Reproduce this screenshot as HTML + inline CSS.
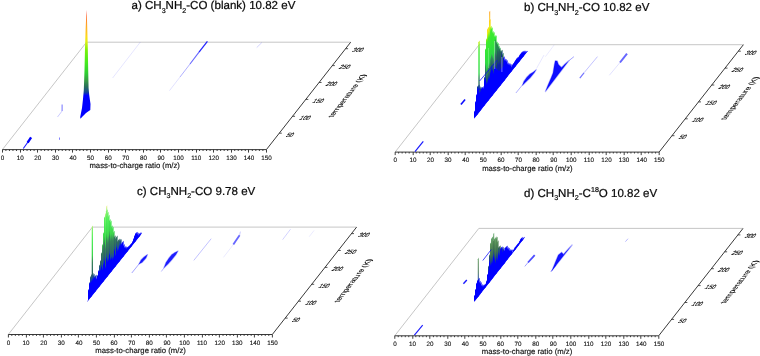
<!DOCTYPE html><html><head><meta charset="utf-8"><style>html,body{margin:0;padding:0;background:#fff}svg{display:block}text{font-family:"Liberation Sans",sans-serif}</style></head><body>
<svg width="760" height="356" viewBox="0 0 760 356" style="will-change:transform;text-rendering:geometricPrecision">
<rect width="760" height="356" fill="#fff"/>
<defs>
<linearGradient id="g0" gradientUnits="userSpaceOnUse" x1="0" y1="0" x2="0" y2="-110"><stop offset="0.0000" stop-color="#0000ff"/><stop offset="0.1636" stop-color="#0000ff"/><stop offset="0.1909" stop-color="#143ca0"/><stop offset="0.2182" stop-color="#286464"/><stop offset="0.2818" stop-color="#328c5a"/><stop offset="0.3182" stop-color="#2dd746"/><stop offset="0.4364" stop-color="#32e637"/><stop offset="0.5455" stop-color="#41eb2d"/><stop offset="0.5818" stop-color="#96f019"/><stop offset="0.6182" stop-color="#ebee19"/><stop offset="0.6636" stop-color="#ffd219"/><stop offset="0.7636" stop-color="#ffa028"/><stop offset="0.8364" stop-color="#ff6e32"/><stop offset="0.9091" stop-color="#ff3c46"/></linearGradient>
<linearGradient id="c0" gradientUnits="userSpaceOnUse" x1="0" y1="0" x2="0" y2="-110"><stop offset="0.0000" stop-color="#0000ff"/><stop offset="0.0909" stop-color="#0000ff"/><stop offset="0.1182" stop-color="#194ba0"/><stop offset="0.1545" stop-color="#2d6464"/><stop offset="0.2636" stop-color="#37825a"/><stop offset="0.3273" stop-color="#3cd74b"/><stop offset="0.4636" stop-color="#50ee5a"/><stop offset="0.5636" stop-color="#82f26e"/><stop offset="0.6091" stop-color="#ebf08c"/></linearGradient>
<linearGradient id="d0" gradientUnits="userSpaceOnUse" x1="0" y1="0" x2="0" y2="-110"><stop offset="0.0000" stop-color="#0000ff"/><stop offset="0.1000" stop-color="#0000ff"/><stop offset="0.1364" stop-color="#1e468c"/><stop offset="0.1818" stop-color="#3c6e50"/><stop offset="0.2727" stop-color="#558c55"/><stop offset="0.3545" stop-color="#6eaf78"/></linearGradient>
<linearGradient id="g1" gradientUnits="userSpaceOnUse" x1="0" y1="0" x2="0" y2="-110"><stop offset="0.0000" stop-color="#0000ff"/><stop offset="0.1818" stop-color="#0000ff"/><stop offset="0.2091" stop-color="#143ca0"/><stop offset="0.2364" stop-color="#286464"/><stop offset="0.3000" stop-color="#328c5a"/><stop offset="0.3364" stop-color="#2dd746"/><stop offset="0.4545" stop-color="#32e637"/><stop offset="0.5636" stop-color="#41eb2d"/><stop offset="0.6000" stop-color="#96f019"/><stop offset="0.6364" stop-color="#ebee19"/><stop offset="0.6818" stop-color="#ffd219"/><stop offset="0.7818" stop-color="#ffa028"/><stop offset="0.8545" stop-color="#ff6e32"/><stop offset="0.9273" stop-color="#ff3c46"/></linearGradient>
<linearGradient id="c1" gradientUnits="userSpaceOnUse" x1="0" y1="0" x2="0" y2="-110"><stop offset="0.0000" stop-color="#0000ff"/><stop offset="0.1091" stop-color="#0000ff"/><stop offset="0.1364" stop-color="#194ba0"/><stop offset="0.1727" stop-color="#2d6464"/><stop offset="0.2818" stop-color="#37825a"/><stop offset="0.3455" stop-color="#3cd74b"/><stop offset="0.4818" stop-color="#50ee5a"/><stop offset="0.5818" stop-color="#82f26e"/><stop offset="0.6273" stop-color="#ebf08c"/></linearGradient>
<linearGradient id="d1" gradientUnits="userSpaceOnUse" x1="0" y1="0" x2="0" y2="-110"><stop offset="0.0000" stop-color="#0000ff"/><stop offset="0.1182" stop-color="#0000ff"/><stop offset="0.1545" stop-color="#1e468c"/><stop offset="0.2000" stop-color="#3c6e50"/><stop offset="0.2909" stop-color="#558c55"/><stop offset="0.3727" stop-color="#6eaf78"/></linearGradient>
<linearGradient id="g2" gradientUnits="userSpaceOnUse" x1="0" y1="0" x2="0" y2="-110"><stop offset="0.0000" stop-color="#0000ff"/><stop offset="0.2000" stop-color="#0000ff"/><stop offset="0.2273" stop-color="#143ca0"/><stop offset="0.2545" stop-color="#286464"/><stop offset="0.3182" stop-color="#328c5a"/><stop offset="0.3545" stop-color="#2dd746"/><stop offset="0.4727" stop-color="#32e637"/><stop offset="0.5818" stop-color="#41eb2d"/><stop offset="0.6182" stop-color="#96f019"/><stop offset="0.6545" stop-color="#ebee19"/><stop offset="0.7000" stop-color="#ffd219"/><stop offset="0.8000" stop-color="#ffa028"/><stop offset="0.8727" stop-color="#ff6e32"/><stop offset="0.9455" stop-color="#ff3c46"/></linearGradient>
<linearGradient id="c2" gradientUnits="userSpaceOnUse" x1="0" y1="0" x2="0" y2="-110"><stop offset="0.0000" stop-color="#0000ff"/><stop offset="0.1273" stop-color="#0000ff"/><stop offset="0.1545" stop-color="#194ba0"/><stop offset="0.1909" stop-color="#2d6464"/><stop offset="0.3000" stop-color="#37825a"/><stop offset="0.3636" stop-color="#3cd74b"/><stop offset="0.5000" stop-color="#50ee5a"/><stop offset="0.6000" stop-color="#82f26e"/><stop offset="0.6455" stop-color="#ebf08c"/></linearGradient>
<linearGradient id="d2" gradientUnits="userSpaceOnUse" x1="0" y1="0" x2="0" y2="-110"><stop offset="0.0000" stop-color="#0000ff"/><stop offset="0.1364" stop-color="#0000ff"/><stop offset="0.1727" stop-color="#1e468c"/><stop offset="0.2182" stop-color="#3c6e50"/><stop offset="0.3091" stop-color="#558c55"/><stop offset="0.3909" stop-color="#6eaf78"/></linearGradient>
<linearGradient id="g3" gradientUnits="userSpaceOnUse" x1="0" y1="0" x2="0" y2="-110"><stop offset="0.0182" stop-color="#0000ff"/><stop offset="0.2182" stop-color="#0000ff"/><stop offset="0.2455" stop-color="#143ca0"/><stop offset="0.2727" stop-color="#286464"/><stop offset="0.3364" stop-color="#328c5a"/><stop offset="0.3727" stop-color="#2dd746"/><stop offset="0.4909" stop-color="#32e637"/><stop offset="0.6000" stop-color="#41eb2d"/><stop offset="0.6364" stop-color="#96f019"/><stop offset="0.6727" stop-color="#ebee19"/><stop offset="0.7182" stop-color="#ffd219"/><stop offset="0.8182" stop-color="#ffa028"/><stop offset="0.8909" stop-color="#ff6e32"/><stop offset="0.9636" stop-color="#ff3c46"/></linearGradient>
<linearGradient id="c3" gradientUnits="userSpaceOnUse" x1="0" y1="0" x2="0" y2="-110"><stop offset="0.0182" stop-color="#0000ff"/><stop offset="0.1455" stop-color="#0000ff"/><stop offset="0.1727" stop-color="#194ba0"/><stop offset="0.2091" stop-color="#2d6464"/><stop offset="0.3182" stop-color="#37825a"/><stop offset="0.3818" stop-color="#3cd74b"/><stop offset="0.5182" stop-color="#50ee5a"/><stop offset="0.6182" stop-color="#82f26e"/><stop offset="0.6636" stop-color="#ebf08c"/></linearGradient>
<linearGradient id="d3" gradientUnits="userSpaceOnUse" x1="0" y1="0" x2="0" y2="-110"><stop offset="0.0182" stop-color="#0000ff"/><stop offset="0.1545" stop-color="#0000ff"/><stop offset="0.1909" stop-color="#1e468c"/><stop offset="0.2364" stop-color="#3c6e50"/><stop offset="0.3273" stop-color="#558c55"/><stop offset="0.4091" stop-color="#6eaf78"/></linearGradient>
<linearGradient id="g4" gradientUnits="userSpaceOnUse" x1="0" y1="0" x2="0" y2="-110"><stop offset="0.0364" stop-color="#0000ff"/><stop offset="0.2364" stop-color="#0000ff"/><stop offset="0.2636" stop-color="#143ca0"/><stop offset="0.2909" stop-color="#286464"/><stop offset="0.3545" stop-color="#328c5a"/><stop offset="0.3909" stop-color="#2dd746"/><stop offset="0.5091" stop-color="#32e637"/><stop offset="0.6182" stop-color="#41eb2d"/><stop offset="0.6545" stop-color="#96f019"/><stop offset="0.6909" stop-color="#ebee19"/><stop offset="0.7364" stop-color="#ffd219"/><stop offset="0.8364" stop-color="#ffa028"/><stop offset="0.9091" stop-color="#ff6e32"/><stop offset="0.9818" stop-color="#ff3c46"/></linearGradient>
<linearGradient id="c4" gradientUnits="userSpaceOnUse" x1="0" y1="0" x2="0" y2="-110"><stop offset="0.0364" stop-color="#0000ff"/><stop offset="0.1636" stop-color="#0000ff"/><stop offset="0.1909" stop-color="#194ba0"/><stop offset="0.2273" stop-color="#2d6464"/><stop offset="0.3364" stop-color="#37825a"/><stop offset="0.4000" stop-color="#3cd74b"/><stop offset="0.5364" stop-color="#50ee5a"/><stop offset="0.6364" stop-color="#82f26e"/><stop offset="0.6818" stop-color="#ebf08c"/></linearGradient>
<linearGradient id="d4" gradientUnits="userSpaceOnUse" x1="0" y1="0" x2="0" y2="-110"><stop offset="0.0364" stop-color="#0000ff"/><stop offset="0.1727" stop-color="#0000ff"/><stop offset="0.2091" stop-color="#1e468c"/><stop offset="0.2545" stop-color="#3c6e50"/><stop offset="0.3455" stop-color="#558c55"/><stop offset="0.4273" stop-color="#6eaf78"/></linearGradient>
</defs>
<g transform="translate(0,0)">
<path d="M2.4 149.6L86.5 42.2H350.7" fill="none" stroke="#b8b8b8" stroke-width="0.8"/>
<path d="M2.4 149.6H266.4L350.7 42.2" fill="none" stroke="#2e2e2e" stroke-width="0.95"/>
<path d="M2.5 149.6v3M5.92 149.6v1.4M9.44 149.6v1.4M12.96 149.6v1.4M16.48 149.6v1.4M20.5 149.6v3M23.52 149.6v1.4M27.04 149.6v1.4M30.56 149.6v1.4M34.08 149.6v1.4M37.5 149.6v3M41.12 149.6v1.4M44.64 149.6v1.4M48.16 149.6v1.4M51.68 149.6v1.4M55.5 149.6v3M58.72 149.6v1.4M62.24 149.6v1.4M65.76 149.6v1.4M69.28 149.6v1.4M72.5 149.6v3M76.32 149.6v1.4M79.84 149.6v1.4M83.36 149.6v1.4M86.88 149.6v1.4M90.5 149.6v3M93.92 149.6v1.4M97.44 149.6v1.4M100.96 149.6v1.4M104.48 149.6v1.4M108.5 149.6v3M111.52 149.6v1.4M115.04 149.6v1.4M118.56 149.6v1.4M122.08 149.6v1.4M125.5 149.6v3M129.12 149.6v1.4M132.64 149.6v1.4M136.16 149.6v1.4M139.68 149.6v1.4M143.5 149.6v3M146.72 149.6v1.4M150.24 149.6v1.4M153.76 149.6v1.4M157.28 149.6v1.4M160.5 149.6v3M164.32 149.6v1.4M167.84 149.6v1.4M171.36 149.6v1.4M174.88 149.6v1.4M178.5 149.6v3M181.92 149.6v1.4M185.44 149.6v1.4M188.96 149.6v1.4M192.48 149.6v1.4M196.5 149.6v3M199.52 149.6v1.4M203.04 149.6v1.4M206.56 149.6v1.4M210.08 149.6v1.4M213.5 149.6v3M217.12 149.6v1.4M220.64 149.6v1.4M224.16 149.6v1.4M227.68 149.6v1.4M231.5 149.6v3M234.72 149.6v1.4M238.24 149.6v1.4M241.76 149.6v1.4M245.28 149.6v1.4M248.5 149.6v3M252.32 149.6v1.4M255.84 149.6v1.4M259.36 149.6v1.4M262.88 149.6v1.4M266.5 149.6v3" stroke="#2a2a2a" stroke-width="0.9" fill="none"/>
<text x="2.6" y="159.8" font-size="6.3" text-anchor="middle" fill="#111" stroke="#111" stroke-width="0.12">0</text>
<text x="20.2" y="159.8" font-size="6.3" text-anchor="middle" fill="#111" stroke="#111" stroke-width="0.12">10</text>
<text x="37.8" y="159.8" font-size="6.3" text-anchor="middle" fill="#111" stroke="#111" stroke-width="0.12">20</text>
<text x="55.4" y="159.8" font-size="6.3" text-anchor="middle" fill="#111" stroke="#111" stroke-width="0.12">30</text>
<text x="73" y="159.8" font-size="6.3" text-anchor="middle" fill="#111" stroke="#111" stroke-width="0.12">40</text>
<text x="90.6" y="159.8" font-size="6.3" text-anchor="middle" fill="#111" stroke="#111" stroke-width="0.12">50</text>
<text x="108.2" y="159.8" font-size="6.3" text-anchor="middle" fill="#111" stroke="#111" stroke-width="0.12">60</text>
<text x="125.8" y="159.8" font-size="6.3" text-anchor="middle" fill="#111" stroke="#111" stroke-width="0.12">70</text>
<text x="143.4" y="159.8" font-size="6.3" text-anchor="middle" fill="#111" stroke="#111" stroke-width="0.12">80</text>
<text x="161" y="159.8" font-size="6.3" text-anchor="middle" fill="#111" stroke="#111" stroke-width="0.12">90</text>
<text x="178.6" y="159.8" font-size="6.3" text-anchor="middle" fill="#111" stroke="#111" stroke-width="0.12">100</text>
<text x="196.2" y="159.8" font-size="6.3" text-anchor="middle" fill="#111" stroke="#111" stroke-width="0.12">110</text>
<text x="213.8" y="159.8" font-size="6.3" text-anchor="middle" fill="#111" stroke="#111" stroke-width="0.12">120</text>
<text x="231.4" y="159.8" font-size="6.3" text-anchor="middle" fill="#111" stroke="#111" stroke-width="0.12">130</text>
<text x="249" y="159.8" font-size="6.3" text-anchor="middle" fill="#111" stroke="#111" stroke-width="0.12">140</text>
<text x="266.6" y="159.8" font-size="6.3" text-anchor="middle" fill="#111" stroke="#111" stroke-width="0.12">150</text>
<text x="134.7" y="168" font-size="7.73" text-anchor="middle" fill="#111" stroke="#111" stroke-width="0.15">mass-to-charge ratio (m/z)</text>
<text transform="matrix(1 0 -0.785 1 351.6 52.2)" font-size="6.0" fill="#000" stroke="#000" stroke-width="0.12">300</text>
<text transform="matrix(1 0 -0.785 1 338.33 69.1)" font-size="6.0" fill="#000" stroke="#000" stroke-width="0.12">250</text>
<text transform="matrix(1 0 -0.785 1 325.07 86)" font-size="6.0" fill="#000" stroke="#000" stroke-width="0.12">200</text>
<text transform="matrix(1 0 -0.785 1 311.8 102.9)" font-size="6.0" fill="#000" stroke="#000" stroke-width="0.12">150</text>
<text transform="matrix(1 0 -0.785 1 298.54 119.8)" font-size="6.0" fill="#000" stroke="#000" stroke-width="0.12">100</text>
<text transform="matrix(1 0 -0.785 1 285.27 136.7)" font-size="6.0" fill="#000" stroke="#000" stroke-width="0.12">50</text>
<path d="M345.5 48.7h2.6M332.23 65.6h2.6M318.97 82.5h2.6M305.7 99.4h2.6M292.44 116.3h2.6M279.17 133.2h2.6" stroke="#2a2a2a" stroke-width="0.8" fill="none"/>
<text transform="matrix(0.617 -0.787 1.02 0 333 117.3)" font-size="7.8" fill="#000" stroke="#000" stroke-width="0.1">temperature (K)</text>
</g>
<g transform="translate(392.7,2.5)">
<path d="M2.4 149.6L86.5 42.2H350.7" fill="none" stroke="#b8b8b8" stroke-width="0.8"/>
<path d="M2.4 149.6H266.4L350.7 42.2" fill="none" stroke="#2e2e2e" stroke-width="0.95"/>
<path d="M2.5 149.6v3M5.92 149.6v1.4M9.44 149.6v1.4M12.96 149.6v1.4M16.48 149.6v1.4M20.5 149.6v3M23.52 149.6v1.4M27.04 149.6v1.4M30.56 149.6v1.4M34.08 149.6v1.4M37.5 149.6v3M41.12 149.6v1.4M44.64 149.6v1.4M48.16 149.6v1.4M51.68 149.6v1.4M55.5 149.6v3M58.72 149.6v1.4M62.24 149.6v1.4M65.76 149.6v1.4M69.28 149.6v1.4M72.5 149.6v3M76.32 149.6v1.4M79.84 149.6v1.4M83.36 149.6v1.4M86.88 149.6v1.4M90.5 149.6v3M93.92 149.6v1.4M97.44 149.6v1.4M100.96 149.6v1.4M104.48 149.6v1.4M108.5 149.6v3M111.52 149.6v1.4M115.04 149.6v1.4M118.56 149.6v1.4M122.08 149.6v1.4M125.5 149.6v3M129.12 149.6v1.4M132.64 149.6v1.4M136.16 149.6v1.4M139.68 149.6v1.4M143.5 149.6v3M146.72 149.6v1.4M150.24 149.6v1.4M153.76 149.6v1.4M157.28 149.6v1.4M160.5 149.6v3M164.32 149.6v1.4M167.84 149.6v1.4M171.36 149.6v1.4M174.88 149.6v1.4M178.5 149.6v3M181.92 149.6v1.4M185.44 149.6v1.4M188.96 149.6v1.4M192.48 149.6v1.4M196.5 149.6v3M199.52 149.6v1.4M203.04 149.6v1.4M206.56 149.6v1.4M210.08 149.6v1.4M213.5 149.6v3M217.12 149.6v1.4M220.64 149.6v1.4M224.16 149.6v1.4M227.68 149.6v1.4M231.5 149.6v3M234.72 149.6v1.4M238.24 149.6v1.4M241.76 149.6v1.4M245.28 149.6v1.4M248.5 149.6v3M252.32 149.6v1.4M255.84 149.6v1.4M259.36 149.6v1.4M262.88 149.6v1.4M266.5 149.6v3" stroke="#2a2a2a" stroke-width="0.9" fill="none"/>
<text x="2.6" y="159.8" font-size="6.3" text-anchor="middle" fill="#111" stroke="#111" stroke-width="0.12">0</text>
<text x="20.2" y="159.8" font-size="6.3" text-anchor="middle" fill="#111" stroke="#111" stroke-width="0.12">10</text>
<text x="37.8" y="159.8" font-size="6.3" text-anchor="middle" fill="#111" stroke="#111" stroke-width="0.12">20</text>
<text x="55.4" y="159.8" font-size="6.3" text-anchor="middle" fill="#111" stroke="#111" stroke-width="0.12">30</text>
<text x="73" y="159.8" font-size="6.3" text-anchor="middle" fill="#111" stroke="#111" stroke-width="0.12">40</text>
<text x="90.6" y="159.8" font-size="6.3" text-anchor="middle" fill="#111" stroke="#111" stroke-width="0.12">50</text>
<text x="108.2" y="159.8" font-size="6.3" text-anchor="middle" fill="#111" stroke="#111" stroke-width="0.12">60</text>
<text x="125.8" y="159.8" font-size="6.3" text-anchor="middle" fill="#111" stroke="#111" stroke-width="0.12">70</text>
<text x="143.4" y="159.8" font-size="6.3" text-anchor="middle" fill="#111" stroke="#111" stroke-width="0.12">80</text>
<text x="161" y="159.8" font-size="6.3" text-anchor="middle" fill="#111" stroke="#111" stroke-width="0.12">90</text>
<text x="178.6" y="159.8" font-size="6.3" text-anchor="middle" fill="#111" stroke="#111" stroke-width="0.12">100</text>
<text x="196.2" y="159.8" font-size="6.3" text-anchor="middle" fill="#111" stroke="#111" stroke-width="0.12">110</text>
<text x="213.8" y="159.8" font-size="6.3" text-anchor="middle" fill="#111" stroke="#111" stroke-width="0.12">120</text>
<text x="231.4" y="159.8" font-size="6.3" text-anchor="middle" fill="#111" stroke="#111" stroke-width="0.12">130</text>
<text x="249" y="159.8" font-size="6.3" text-anchor="middle" fill="#111" stroke="#111" stroke-width="0.12">140</text>
<text x="266.6" y="159.8" font-size="6.3" text-anchor="middle" fill="#111" stroke="#111" stroke-width="0.12">150</text>
<text x="134.7" y="168" font-size="7.73" text-anchor="middle" fill="#111" stroke="#111" stroke-width="0.15">mass-to-charge ratio (m/z)</text>
<text transform="matrix(1 0 -0.785 1 351.6 52.2)" font-size="6.0" fill="#000" stroke="#000" stroke-width="0.12">300</text>
<text transform="matrix(1 0 -0.785 1 338.33 69.1)" font-size="6.0" fill="#000" stroke="#000" stroke-width="0.12">250</text>
<text transform="matrix(1 0 -0.785 1 325.07 86)" font-size="6.0" fill="#000" stroke="#000" stroke-width="0.12">200</text>
<text transform="matrix(1 0 -0.785 1 311.8 102.9)" font-size="6.0" fill="#000" stroke="#000" stroke-width="0.12">150</text>
<text transform="matrix(1 0 -0.785 1 298.54 119.8)" font-size="6.0" fill="#000" stroke="#000" stroke-width="0.12">100</text>
<text transform="matrix(1 0 -0.785 1 285.27 136.7)" font-size="6.0" fill="#000" stroke="#000" stroke-width="0.12">50</text>
<path d="M345.5 48.7h2.6M332.23 65.6h2.6M318.97 82.5h2.6M305.7 99.4h2.6M292.44 116.3h2.6M279.17 133.2h2.6" stroke="#2a2a2a" stroke-width="0.8" fill="none"/>
<text transform="matrix(0.617 -0.787 1.02 0 333 117.3)" font-size="7.8" fill="#000" stroke="#000" stroke-width="0.1">temperature (K)</text>
</g>
<g transform="translate(5.9,184.9)">
<path d="M2.4 149.6L86.5 42.2H350.7" fill="none" stroke="#b8b8b8" stroke-width="0.8"/>
<path d="M2.4 149.6H266.4L350.7 42.2" fill="none" stroke="#2e2e2e" stroke-width="0.95"/>
<path d="M2.5 149.6v3M5.92 149.6v1.4M9.44 149.6v1.4M12.96 149.6v1.4M16.48 149.6v1.4M20.5 149.6v3M23.52 149.6v1.4M27.04 149.6v1.4M30.56 149.6v1.4M34.08 149.6v1.4M37.5 149.6v3M41.12 149.6v1.4M44.64 149.6v1.4M48.16 149.6v1.4M51.68 149.6v1.4M55.5 149.6v3M58.72 149.6v1.4M62.24 149.6v1.4M65.76 149.6v1.4M69.28 149.6v1.4M72.5 149.6v3M76.32 149.6v1.4M79.84 149.6v1.4M83.36 149.6v1.4M86.88 149.6v1.4M90.5 149.6v3M93.92 149.6v1.4M97.44 149.6v1.4M100.96 149.6v1.4M104.48 149.6v1.4M108.5 149.6v3M111.52 149.6v1.4M115.04 149.6v1.4M118.56 149.6v1.4M122.08 149.6v1.4M125.5 149.6v3M129.12 149.6v1.4M132.64 149.6v1.4M136.16 149.6v1.4M139.68 149.6v1.4M143.5 149.6v3M146.72 149.6v1.4M150.24 149.6v1.4M153.76 149.6v1.4M157.28 149.6v1.4M160.5 149.6v3M164.32 149.6v1.4M167.84 149.6v1.4M171.36 149.6v1.4M174.88 149.6v1.4M178.5 149.6v3M181.92 149.6v1.4M185.44 149.6v1.4M188.96 149.6v1.4M192.48 149.6v1.4M196.5 149.6v3M199.52 149.6v1.4M203.04 149.6v1.4M206.56 149.6v1.4M210.08 149.6v1.4M213.5 149.6v3M217.12 149.6v1.4M220.64 149.6v1.4M224.16 149.6v1.4M227.68 149.6v1.4M231.5 149.6v3M234.72 149.6v1.4M238.24 149.6v1.4M241.76 149.6v1.4M245.28 149.6v1.4M248.5 149.6v3M252.32 149.6v1.4M255.84 149.6v1.4M259.36 149.6v1.4M262.88 149.6v1.4M266.5 149.6v3" stroke="#2a2a2a" stroke-width="0.9" fill="none"/>
<text x="2.6" y="159.8" font-size="6.3" text-anchor="middle" fill="#111" stroke="#111" stroke-width="0.12">0</text>
<text x="20.2" y="159.8" font-size="6.3" text-anchor="middle" fill="#111" stroke="#111" stroke-width="0.12">10</text>
<text x="37.8" y="159.8" font-size="6.3" text-anchor="middle" fill="#111" stroke="#111" stroke-width="0.12">20</text>
<text x="55.4" y="159.8" font-size="6.3" text-anchor="middle" fill="#111" stroke="#111" stroke-width="0.12">30</text>
<text x="73" y="159.8" font-size="6.3" text-anchor="middle" fill="#111" stroke="#111" stroke-width="0.12">40</text>
<text x="90.6" y="159.8" font-size="6.3" text-anchor="middle" fill="#111" stroke="#111" stroke-width="0.12">50</text>
<text x="108.2" y="159.8" font-size="6.3" text-anchor="middle" fill="#111" stroke="#111" stroke-width="0.12">60</text>
<text x="125.8" y="159.8" font-size="6.3" text-anchor="middle" fill="#111" stroke="#111" stroke-width="0.12">70</text>
<text x="143.4" y="159.8" font-size="6.3" text-anchor="middle" fill="#111" stroke="#111" stroke-width="0.12">80</text>
<text x="161" y="159.8" font-size="6.3" text-anchor="middle" fill="#111" stroke="#111" stroke-width="0.12">90</text>
<text x="178.6" y="159.8" font-size="6.3" text-anchor="middle" fill="#111" stroke="#111" stroke-width="0.12">100</text>
<text x="196.2" y="159.8" font-size="6.3" text-anchor="middle" fill="#111" stroke="#111" stroke-width="0.12">110</text>
<text x="213.8" y="159.8" font-size="6.3" text-anchor="middle" fill="#111" stroke="#111" stroke-width="0.12">120</text>
<text x="231.4" y="159.8" font-size="6.3" text-anchor="middle" fill="#111" stroke="#111" stroke-width="0.12">130</text>
<text x="249" y="159.8" font-size="6.3" text-anchor="middle" fill="#111" stroke="#111" stroke-width="0.12">140</text>
<text x="266.6" y="159.8" font-size="6.3" text-anchor="middle" fill="#111" stroke="#111" stroke-width="0.12">150</text>
<text x="134.7" y="168" font-size="7.73" text-anchor="middle" fill="#111" stroke="#111" stroke-width="0.15">mass-to-charge ratio (m/z)</text>
<text transform="matrix(1 0 -0.785 1 351.6 52.2)" font-size="6.0" fill="#000" stroke="#000" stroke-width="0.12">300</text>
<text transform="matrix(1 0 -0.785 1 338.33 69.1)" font-size="6.0" fill="#000" stroke="#000" stroke-width="0.12">250</text>
<text transform="matrix(1 0 -0.785 1 325.07 86)" font-size="6.0" fill="#000" stroke="#000" stroke-width="0.12">200</text>
<text transform="matrix(1 0 -0.785 1 311.8 102.9)" font-size="6.0" fill="#000" stroke="#000" stroke-width="0.12">150</text>
<text transform="matrix(1 0 -0.785 1 298.54 119.8)" font-size="6.0" fill="#000" stroke="#000" stroke-width="0.12">100</text>
<text transform="matrix(1 0 -0.785 1 285.27 136.7)" font-size="6.0" fill="#000" stroke="#000" stroke-width="0.12">50</text>
<path d="M345.5 48.7h2.6M332.23 65.6h2.6M318.97 82.5h2.6M305.7 99.4h2.6M292.44 116.3h2.6M279.17 133.2h2.6" stroke="#2a2a2a" stroke-width="0.8" fill="none"/>
<text transform="matrix(0.617 -0.787 1.02 0 333 117.3)" font-size="7.8" fill="#000" stroke="#000" stroke-width="0.1">temperature (K)</text>
</g>
<g transform="translate(392.3,186.2)">
<path d="M2.4 149.6L86.5 42.2H350.7" fill="none" stroke="#b8b8b8" stroke-width="0.8"/>
<path d="M2.4 149.6H266.4L350.7 42.2" fill="none" stroke="#2e2e2e" stroke-width="0.95"/>
<path d="M2.5 149.6v3M5.92 149.6v1.4M9.44 149.6v1.4M12.96 149.6v1.4M16.48 149.6v1.4M20.5 149.6v3M23.52 149.6v1.4M27.04 149.6v1.4M30.56 149.6v1.4M34.08 149.6v1.4M37.5 149.6v3M41.12 149.6v1.4M44.64 149.6v1.4M48.16 149.6v1.4M51.68 149.6v1.4M55.5 149.6v3M58.72 149.6v1.4M62.24 149.6v1.4M65.76 149.6v1.4M69.28 149.6v1.4M72.5 149.6v3M76.32 149.6v1.4M79.84 149.6v1.4M83.36 149.6v1.4M86.88 149.6v1.4M90.5 149.6v3M93.92 149.6v1.4M97.44 149.6v1.4M100.96 149.6v1.4M104.48 149.6v1.4M108.5 149.6v3M111.52 149.6v1.4M115.04 149.6v1.4M118.56 149.6v1.4M122.08 149.6v1.4M125.5 149.6v3M129.12 149.6v1.4M132.64 149.6v1.4M136.16 149.6v1.4M139.68 149.6v1.4M143.5 149.6v3M146.72 149.6v1.4M150.24 149.6v1.4M153.76 149.6v1.4M157.28 149.6v1.4M160.5 149.6v3M164.32 149.6v1.4M167.84 149.6v1.4M171.36 149.6v1.4M174.88 149.6v1.4M178.5 149.6v3M181.92 149.6v1.4M185.44 149.6v1.4M188.96 149.6v1.4M192.48 149.6v1.4M196.5 149.6v3M199.52 149.6v1.4M203.04 149.6v1.4M206.56 149.6v1.4M210.08 149.6v1.4M213.5 149.6v3M217.12 149.6v1.4M220.64 149.6v1.4M224.16 149.6v1.4M227.68 149.6v1.4M231.5 149.6v3M234.72 149.6v1.4M238.24 149.6v1.4M241.76 149.6v1.4M245.28 149.6v1.4M248.5 149.6v3M252.32 149.6v1.4M255.84 149.6v1.4M259.36 149.6v1.4M262.88 149.6v1.4M266.5 149.6v3" stroke="#2a2a2a" stroke-width="0.9" fill="none"/>
<text x="2.6" y="159.8" font-size="6.3" text-anchor="middle" fill="#111" stroke="#111" stroke-width="0.12">0</text>
<text x="20.2" y="159.8" font-size="6.3" text-anchor="middle" fill="#111" stroke="#111" stroke-width="0.12">10</text>
<text x="37.8" y="159.8" font-size="6.3" text-anchor="middle" fill="#111" stroke="#111" stroke-width="0.12">20</text>
<text x="55.4" y="159.8" font-size="6.3" text-anchor="middle" fill="#111" stroke="#111" stroke-width="0.12">30</text>
<text x="73" y="159.8" font-size="6.3" text-anchor="middle" fill="#111" stroke="#111" stroke-width="0.12">40</text>
<text x="90.6" y="159.8" font-size="6.3" text-anchor="middle" fill="#111" stroke="#111" stroke-width="0.12">50</text>
<text x="108.2" y="159.8" font-size="6.3" text-anchor="middle" fill="#111" stroke="#111" stroke-width="0.12">60</text>
<text x="125.8" y="159.8" font-size="6.3" text-anchor="middle" fill="#111" stroke="#111" stroke-width="0.12">70</text>
<text x="143.4" y="159.8" font-size="6.3" text-anchor="middle" fill="#111" stroke="#111" stroke-width="0.12">80</text>
<text x="161" y="159.8" font-size="6.3" text-anchor="middle" fill="#111" stroke="#111" stroke-width="0.12">90</text>
<text x="178.6" y="159.8" font-size="6.3" text-anchor="middle" fill="#111" stroke="#111" stroke-width="0.12">100</text>
<text x="196.2" y="159.8" font-size="6.3" text-anchor="middle" fill="#111" stroke="#111" stroke-width="0.12">110</text>
<text x="213.8" y="159.8" font-size="6.3" text-anchor="middle" fill="#111" stroke="#111" stroke-width="0.12">120</text>
<text x="231.4" y="159.8" font-size="6.3" text-anchor="middle" fill="#111" stroke="#111" stroke-width="0.12">130</text>
<text x="249" y="159.8" font-size="6.3" text-anchor="middle" fill="#111" stroke="#111" stroke-width="0.12">140</text>
<text x="266.6" y="159.8" font-size="6.3" text-anchor="middle" fill="#111" stroke="#111" stroke-width="0.12">150</text>
<text x="134.7" y="168" font-size="7.73" text-anchor="middle" fill="#111" stroke="#111" stroke-width="0.15">mass-to-charge ratio (m/z)</text>
<text transform="matrix(1 0 -0.785 1 351.6 52.2)" font-size="6.0" fill="#000" stroke="#000" stroke-width="0.12">300</text>
<text transform="matrix(1 0 -0.785 1 338.33 69.1)" font-size="6.0" fill="#000" stroke="#000" stroke-width="0.12">250</text>
<text transform="matrix(1 0 -0.785 1 325.07 86)" font-size="6.0" fill="#000" stroke="#000" stroke-width="0.12">200</text>
<text transform="matrix(1 0 -0.785 1 311.8 102.9)" font-size="6.0" fill="#000" stroke="#000" stroke-width="0.12">150</text>
<text transform="matrix(1 0 -0.785 1 298.54 119.8)" font-size="6.0" fill="#000" stroke="#000" stroke-width="0.12">100</text>
<text transform="matrix(1 0 -0.785 1 285.27 136.7)" font-size="6.0" fill="#000" stroke="#000" stroke-width="0.12">50</text>
<path d="M345.5 48.7h2.6M332.23 65.6h2.6M318.97 82.5h2.6M305.7 99.4h2.6M292.44 116.3h2.6M279.17 133.2h2.6" stroke="#2a2a2a" stroke-width="0.8" fill="none"/>
<text transform="matrix(0.617 -0.787 1.02 0 333 117.3)" font-size="7.8" fill="#000" stroke="#000" stroke-width="0.1">temperature (K)</text>
</g>
<defs><linearGradient id="ga" gradientUnits="userSpaceOnUse" x1="0" y1="112" x2="0" y2="2">
<stop offset="0" stop-color="#0000ff"/>
<stop offset="0.15" stop-color="#0000ff"/>
<stop offset="0.18" stop-color="#144696"/>
<stop offset="0.23" stop-color="#286e5a"/>
<stop offset="0.28" stop-color="#379646"/>
<stop offset="0.35" stop-color="#2dcd32"/>
<stop offset="0.45" stop-color="#46eb1e"/>
<stop offset="0.56" stop-color="#78f00a"/>
<stop offset="0.64" stop-color="#e1f014"/>
<stop offset="0.69" stop-color="#ffd719"/>
<stop offset="0.8" stop-color="#ffa028"/>
<stop offset="0.87" stop-color="#ff6e32"/>
<stop offset="0.93" stop-color="#ff3c46"/>
</linearGradient></defs>
<polygon points="80.4,118.8 80.2,117 82,108 83,99 83.8,90 84.5,70 85,48 85.6,30 86.2,16 86.5,10 86.9,16 87.3,30 87.8,48 88.2,70 88.6,88 89.2,95 90.5,104 90.3,110 86,113 83,116" fill="url(#ga)"/>
<path d="M23.3 148.5L28 142" stroke="#0000ff" stroke-width="1.1" stroke-opacity="0.9" fill="none"/>
<path d="M27.6 142.6L31.1 137.4" stroke="#0000ff" stroke-width="2.4" stroke-opacity="1" fill="none"/>
<path d="M59.5 137.5L59.5 139.8" stroke="#0000ff" stroke-width="0.9" stroke-opacity="0.55" fill="none"/>
<path d="M62.1 104.5L62.1 111" stroke="#0000ff" stroke-width="0.8" stroke-opacity="0.7" fill="none"/>
<path d="M62.1 111L57.5 117" stroke="#0000ff" stroke-width="0.7" stroke-opacity="0.3" fill="none"/>
<path d="M207.4 41.3L199 52.2" stroke="#0000ff" stroke-width="1.3" stroke-opacity="0.85" fill="none"/>
<path d="M199 52.2L190 64" stroke="#0000ff" stroke-width="1.1" stroke-opacity="0.6" fill="none"/>
<path d="M190 64L180 77" stroke="#0000ff" stroke-width="0.9" stroke-opacity="0.35" fill="none"/>
<path d="M180 77L169.5 90.6" stroke="#0000ff" stroke-width="0.8" stroke-opacity="0.15" fill="none"/>
<path d="M140.4 42L112.6 78" stroke="#0000ff" stroke-width="0.7" stroke-opacity="0.15" fill="none"/>
<path d="M261.8 42.6L256.7 47.6" stroke="#0000ff" stroke-width="0.7" stroke-opacity="0.25" fill="none"/>
<g transform="matrix(1 -1.26 0 1 474 118.7)">
<rect x="0" y="-6.87" width="1.6" height="6.87" fill="url(#g1)"/>
<rect x="1" y="-15.2" width="1.6" height="15.2" fill="url(#g0)"/>
<rect x="2" y="-21.01" width="1.6" height="21.01" fill="url(#g3)"/>
<rect x="3" y="-27.83" width="1.6" height="27.83" fill="url(#g3)"/>
<rect x="4" y="-27.02" width="1.6" height="27.02" fill="url(#g3)"/>
<rect x="5" y="-24.09" width="1.6" height="24.09" fill="url(#g0)"/>
<rect x="6" y="-22.39" width="1.6" height="22.39" fill="url(#g0)"/>
<rect x="7" y="-20.78" width="1.6" height="20.78" fill="url(#g3)"/>
<rect x="8" y="-20.48" width="1.6" height="20.48" fill="url(#g3)"/>
<rect x="9" y="-18.49" width="1.6" height="18.49" fill="url(#g1)"/>
<rect x="10" y="-28.4" width="1.6" height="28.4" fill="url(#g3)"/>
<rect x="11" y="-55.12" width="1.6" height="55.12" fill="url(#g3)"/>
<rect x="12" y="-64.15" width="1.6" height="64.15" fill="url(#g0)"/>
<rect x="13" y="-72.8" width="1.6" height="72.8" fill="url(#g0)"/>
<rect x="14" y="-72.94" width="1.6" height="72.94" fill="url(#g1)"/>
<rect x="15" y="-70.65" width="1.6" height="70.65" fill="url(#g1)"/>
<rect x="16" y="-70.65" width="1.6" height="70.65" fill="url(#g3)"/>
<rect x="17" y="-67.93" width="1.6" height="67.93" fill="url(#g4)"/>
<rect x="18" y="-63.03" width="1.6" height="63.03" fill="url(#g3)"/>
<rect x="19" y="-60.83" width="1.6" height="60.83" fill="url(#g1)"/>
<rect x="20" y="-56.58" width="1.6" height="56.58" fill="url(#g3)"/>
<rect x="21" y="-54.92" width="1.6" height="54.92" fill="url(#g3)"/>
<rect x="22" y="-47.36" width="1.6" height="47.36" fill="url(#g1)"/>
<rect x="23" y="-44.96" width="1.6" height="44.96" fill="url(#g3)"/>
<rect x="24" y="-41.02" width="1.6" height="41.02" fill="url(#g2)"/>
<rect x="25" y="-37.75" width="1.6" height="37.75" fill="url(#g2)"/>
<rect x="26" y="-33.97" width="1.6" height="33.97" fill="url(#g1)"/>
<rect x="27" y="-32.81" width="1.6" height="32.81" fill="url(#g4)"/>
<rect x="28" y="-28.6" width="1.6" height="28.6" fill="url(#g0)"/>
<rect x="29" y="-23.92" width="1.6" height="23.92" fill="url(#g3)"/>
<rect x="30" y="-20.47" width="1.6" height="20.47" fill="url(#g2)"/>
<rect x="31" y="-18.58" width="1.6" height="18.58" fill="url(#g2)"/>
<rect x="32" y="-16.4" width="1.6" height="16.4" fill="url(#g0)"/>
<rect x="33" y="-12.87" width="1.6" height="12.87" fill="url(#g2)"/>
<rect x="34" y="-10.78" width="1.6" height="10.78" fill="url(#g2)"/>
<rect x="35" y="-9.35" width="1.6" height="9.35" fill="url(#g2)"/>
<rect x="36" y="-7.43" width="1.6" height="7.43" fill="url(#g4)"/>
<rect x="37" y="-4.81" width="1.6" height="4.81" fill="url(#g3)"/>
<rect x="38" y="-5.69" width="1.6" height="5.69" fill="url(#g2)"/>
<rect x="39" y="-5.55" width="1.6" height="5.55" fill="url(#g2)"/>
<rect x="40" y="-5.99" width="1.6" height="5.99" fill="url(#g3)"/>
<rect x="41" y="-6.35" width="1.6" height="6.35" fill="url(#g0)"/>
<rect x="42" y="-6.48" width="1.6" height="6.48" fill="url(#g2)"/>
<rect x="43" y="-5.98" width="1.6" height="5.98" fill="url(#g4)"/>
<rect x="44" y="-5.4" width="1.6" height="5.4" fill="url(#g4)"/>
<rect x="45" y="-6.29" width="1.6" height="6.29" fill="url(#g4)"/>
<rect x="46" y="-6.12" width="1.6" height="6.12" fill="url(#g4)"/>
<rect x="47" y="-6.16" width="1.6" height="6.16" fill="url(#g2)"/>
<rect x="48" y="-5.51" width="1.6" height="5.51" fill="url(#g4)"/>
<rect x="49" y="-4.42" width="1.6" height="4.42" fill="url(#g2)"/>
<rect x="50" y="-3.18" width="1.6" height="3.18" fill="url(#g3)"/>
<rect x="51" y="-1.58" width="1.6" height="1.58" fill="url(#g0)"/>
<rect x="52" y="-0.47" width="1.6" height="0.47" fill="url(#g2)"/>
</g>
<rect transform="matrix(1 -1.26 0 1 474 118.7)" x="4.35" y="-71.08" width="1.35" height="48.7" fill="url(#g2)" fill-opacity="1"/>
<rect transform="matrix(1 -1.26 0 1 474 118.7)" x="15.2" y="-87.45" width="1" height="18.5" fill="url(#g2)" fill-opacity="1"/>
<rect transform="matrix(1 -1.26 0 1 474 118.7)" x="15" y="-78.83" width="1.6" height="10" fill="url(#g2)" fill-opacity="1"/>
<polygon points="495,39 497.2,43.5 500,49 503.4,57.5 503.6,66 499,71 495,67" fill="#193c5a" fill-opacity="0.5"/>
<path d="M479.6 81L497.3 60.1" stroke="#0000ff" stroke-width="0.8" stroke-opacity="0.9" fill="none"/>
<path d="M494.7 41L494.7 69" stroke="#fff" stroke-width="0.6" stroke-opacity="0.7" fill="none"/>
<path d="M488.5 48L488.5 68" stroke="#fff" stroke-width="0.5" stroke-opacity="0.5" fill="none"/>
<path d="M501.9 57L501.9 72" stroke="#fff" stroke-width="0.6" stroke-opacity="0.75" fill="none"/>
<path d="M415 151.7L423.3 141.4" stroke="#0000ff" stroke-width="1.2" stroke-opacity="0.9" fill="none"/>
<path d="M460.9 104.6L465.1 99.5" stroke="#0000ff" stroke-width="1.6" stroke-opacity="0.95" fill="none"/>
<path d="M515.9 93L524.7 82.2" stroke="#0000ff" stroke-width="0.9" stroke-opacity="0.35" fill="none"/>
<polygon points="522.5,85.2 523.8,81.5 527,77 530,74 533,72.2 536.2,69.7 534.5,72.5 530,78" fill="#0000ff" fill-opacity="0.92" stroke="#0000ff" stroke-opacity="0.28" stroke-width="1.3" stroke-linejoin="round"/>
<path d="M536.5 68.5L544 55" stroke="#0000ff" stroke-width="0.8" stroke-opacity="0.12" fill="none"/>
<polygon points="545.4,91.5 548,85 551,78 553,73 554.3,65 555.2,60.8 557.2,61 558.5,64.5 561.5,67.5 565,64 569,60.6" fill="#0000ff" fill-opacity="0.95" stroke="#0000ff" stroke-opacity="0.28" stroke-width="1.3" stroke-linejoin="round"/>
<path d="M569 60.6L573.9 56.7" stroke="#0000ff" stroke-width="0.9" stroke-opacity="0.4" fill="none"/>
<path d="M545.4 56.7L554.2 44.9" stroke="#0000ff" stroke-width="0.8" stroke-opacity="0.1" fill="none"/>
<path d="M579.8 78.2L584 72.8" stroke="#0000ff" stroke-width="1.2" stroke-opacity="0.55" fill="none"/>
<path d="M584 72.8L597.5 56.6" stroke="#0000ff" stroke-width="0.8" stroke-opacity="0.3" fill="none"/>
<path d="M609.3 75.3L620 62.5" stroke="#0000ff" stroke-width="0.8" stroke-opacity="0.15" fill="none"/>
<path d="M620 62.5L627 53.7" stroke="#0000ff" stroke-width="2" stroke-opacity="0.6" fill="none"/>
<g transform="matrix(1 -1.25 0 1 87.9 300.8)">
<rect x="-0.9" y="-0.35" width="1.6" height="0.35" fill="url(#c2)"/>
<rect x="0.1" y="-10.41" width="1.6" height="10.41" fill="url(#c2)"/>
<rect x="1.1" y="-16.27" width="1.6" height="16.27" fill="url(#c2)"/>
<rect x="2.1" y="-21.02" width="1.6" height="21.02" fill="url(#c2)"/>
<rect x="3.1" y="-21.66" width="1.6" height="21.66" fill="url(#c2)"/>
<rect x="4.1" y="-20.55" width="1.6" height="20.55" fill="url(#c2)"/>
<rect x="5.1" y="-18.62" width="1.6" height="18.62" fill="url(#c2)"/>
<rect x="6.1" y="-15.91" width="1.6" height="15.91" fill="url(#c2)"/>
<rect x="7.1" y="-15.38" width="1.6" height="15.38" fill="url(#c1)"/>
<rect x="8.1" y="-11.44" width="1.6" height="11.44" fill="url(#c1)"/>
<rect x="9.1" y="-13.48" width="1.6" height="13.48" fill="url(#c1)"/>
<rect x="10.1" y="-17.02" width="1.6" height="17.02" fill="url(#c3)"/>
<rect x="11.1" y="-21.13" width="1.6" height="21.13" fill="url(#c2)"/>
<rect x="12.1" y="-24.3" width="1.6" height="24.3" fill="url(#c2)"/>
<rect x="13.1" y="-30.86" width="1.6" height="30.86" fill="url(#c3)"/>
<rect x="14.1" y="-38" width="1.6" height="38" fill="url(#c1)"/>
<rect x="15.1" y="-48.47" width="1.6" height="48.47" fill="url(#c3)"/>
<rect x="16.1" y="-62.8" width="1.6" height="62.8" fill="url(#c4)"/>
<rect x="17.1" y="-65.18" width="1.6" height="65.18" fill="url(#c0)"/>
<rect x="18.1" y="-62.83" width="1.6" height="62.83" fill="url(#c4)"/>
<rect x="19.1" y="-63.29" width="1.6" height="63.29" fill="url(#c2)"/>
<rect x="20.1" y="-58.93" width="1.6" height="58.93" fill="url(#c2)"/>
<rect x="21.1" y="-53.52" width="1.6" height="53.52" fill="url(#c4)"/>
<rect x="22.1" y="-50.75" width="1.6" height="50.75" fill="url(#c1)"/>
<rect x="23.1" y="-44.64" width="1.6" height="44.64" fill="url(#c1)"/>
<rect x="24.1" y="-41.9" width="1.6" height="41.9" fill="url(#c0)"/>
<rect x="25.1" y="-36.65" width="1.6" height="36.65" fill="url(#c0)"/>
<rect x="26.1" y="-30.86" width="1.6" height="30.86" fill="url(#c3)"/>
<rect x="27.1" y="-27.86" width="1.6" height="27.86" fill="url(#c0)"/>
<rect x="28.1" y="-28.27" width="1.6" height="28.27" fill="url(#c3)"/>
<rect x="29.1" y="-22.79" width="1.6" height="22.79" fill="url(#c1)"/>
<rect x="30.1" y="-22.68" width="1.6" height="22.68" fill="url(#c1)"/>
<rect x="31.1" y="-21.27" width="1.6" height="21.27" fill="url(#c2)"/>
<rect x="32.1" y="-19.68" width="1.6" height="19.68" fill="url(#c2)"/>
<rect x="33.1" y="-15.23" width="1.6" height="15.23" fill="url(#c2)"/>
<rect x="34.1" y="-15.38" width="1.6" height="15.38" fill="url(#c2)"/>
<rect x="35.1" y="-11.02" width="1.6" height="11.02" fill="url(#c2)"/>
<rect x="36.1" y="-7.75" width="1.6" height="7.75" fill="url(#c0)"/>
<rect x="37.1" y="-6.27" width="1.6" height="6.27" fill="url(#c4)"/>
<rect x="38.1" y="-4.41" width="1.6" height="4.41" fill="url(#c4)"/>
<rect x="39.1" y="-3.83" width="1.6" height="3.83" fill="url(#c0)"/>
<rect x="40.1" y="-3.46" width="1.6" height="3.46" fill="url(#c3)"/>
<rect x="41.1" y="-3.26" width="1.6" height="3.26" fill="url(#c4)"/>
<rect x="42.1" y="-3.09" width="1.6" height="3.09" fill="url(#c0)"/>
<rect x="43.1" y="-2.98" width="1.6" height="2.98" fill="url(#c2)"/>
<rect x="44.1" y="-3.57" width="1.6" height="3.57" fill="url(#c0)"/>
<rect x="45.1" y="-5.08" width="1.6" height="5.08" fill="url(#c2)"/>
<rect x="46.1" y="-7.04" width="1.6" height="7.04" fill="url(#c1)"/>
<rect x="47.1" y="-7.9" width="1.6" height="7.9" fill="url(#c1)"/>
<rect x="48.1" y="-6.9" width="1.6" height="6.9" fill="url(#c3)"/>
<rect x="49.1" y="-5.04" width="1.6" height="5.04" fill="url(#c1)"/>
<rect x="50.1" y="-2.6" width="1.6" height="2.6" fill="url(#c1)"/>
<rect x="51.1" y="-2.68" width="1.6" height="2.68" fill="url(#c2)"/>
<rect x="52.1" y="-1.53" width="1.6" height="1.53" fill="url(#c1)"/>
</g>
<rect transform="matrix(1 -1.25 0 1 87.9 300.8)" x="3.8" y="-68.94" width="1.3" height="52.7" fill="url(#c2)" fill-opacity="1"/>
<rect transform="matrix(1 -1.25 0 1 87.9 300.8)" x="18.3" y="-71.5" width="1" height="10.2" fill="url(#c2)" fill-opacity="1"/>
<rect transform="matrix(1 -1.25 0 1 87.9 300.8)" x="18" y="-66.68" width="1.8" height="5.5" fill="url(#c2)" fill-opacity="1"/>
<path d="M131.8 273L140 262.8" stroke="#0000ff" stroke-width="0.9" stroke-opacity="0.4" fill="none"/>
<polygon points="139,264 141,260 144,257 147.5,254.6 146,258 142,262.5" fill="#0000ff" fill-opacity="0.9" stroke="#0000ff" stroke-opacity="0.28" stroke-width="1.3" stroke-linejoin="round"/>
<path d="M161.3 271.5L165 266.5" stroke="#0000ff" stroke-width="0.9" stroke-opacity="0.3" fill="none"/>
<polygon points="164,267.8 166,262.5 169,258 172,254.5 175,252.5 178,251 176,254.5 172,259.5 168,264" fill="#0000ff" fill-opacity="0.88" stroke="#0000ff" stroke-opacity="0.28" stroke-width="1.3" stroke-linejoin="round"/>
<path d="M193.8 260.4L211.2 238.7" stroke="#0000ff" stroke-width="0.8" stroke-opacity="0.3" fill="none"/>
<path d="M223.4 257.4L233.3 244.6" stroke="#0000ff" stroke-width="0.7" stroke-opacity="0.12" fill="none"/>
<path d="M233.3 244.6L239.6 235.2" stroke="#0000ff" stroke-width="1.8" stroke-opacity="0.6" fill="none"/>
<path d="M239.6 235.2L240.4 231.6" stroke="#0000ff" stroke-width="0.8" stroke-opacity="0.25" fill="none"/>
<path d="M282.6 239.7L290.5 229.2" stroke="#0000ff" stroke-width="0.8" stroke-opacity="0.22" fill="none"/>
<path d="M309.2 236.7L314.1 230.4" stroke="#0000ff" stroke-width="0.7" stroke-opacity="0.12" fill="none"/>
<g transform="matrix(1 -1.27 0 1 474.4 301.5)">
<rect x="-0.4" y="-6.1" width="1.6" height="6.1" fill="url(#d4)"/>
<rect x="0.6" y="-10.75" width="1.6" height="10.75" fill="url(#d0)"/>
<rect x="1.6" y="-15.81" width="1.6" height="15.81" fill="url(#d2)"/>
<rect x="2.6" y="-17.08" width="1.6" height="17.08" fill="url(#d4)"/>
<rect x="3.6" y="-17.18" width="1.6" height="17.18" fill="url(#d2)"/>
<rect x="4.6" y="-12.86" width="1.6" height="12.86" fill="url(#d4)"/>
<rect x="5.6" y="-10.29" width="1.6" height="10.29" fill="url(#d2)"/>
<rect x="6.6" y="-7" width="1.6" height="7" fill="url(#d0)"/>
<rect x="7.6" y="-5.26" width="1.6" height="5.26" fill="url(#d1)"/>
<rect x="8.6" y="-4.15" width="1.6" height="4.15" fill="url(#d2)"/>
<rect x="9.6" y="-3.74" width="1.6" height="3.74" fill="url(#d3)"/>
<rect x="10.6" y="-3.28" width="1.6" height="3.28" fill="url(#d2)"/>
<rect x="11.6" y="-5.31" width="1.6" height="5.31" fill="url(#d2)"/>
<rect x="12.6" y="-10.47" width="1.6" height="10.47" fill="url(#d0)"/>
<rect x="13.6" y="-17.57" width="1.6" height="17.57" fill="url(#d0)"/>
<rect x="14.6" y="-27.57" width="1.6" height="27.57" fill="url(#d4)"/>
<rect x="15.6" y="-37.87" width="1.6" height="37.87" fill="url(#d2)"/>
<rect x="16.6" y="-41.38" width="1.6" height="41.38" fill="url(#d2)"/>
<rect x="17.6" y="-41.33" width="1.6" height="41.33" fill="url(#d2)"/>
<rect x="18.6" y="-36.76" width="1.6" height="36.76" fill="url(#d4)"/>
<rect x="19.6" y="-37.04" width="1.6" height="37.04" fill="url(#d2)"/>
<rect x="20.6" y="-36.96" width="1.6" height="36.96" fill="url(#d0)"/>
<rect x="21.6" y="-35.2" width="1.6" height="35.2" fill="url(#d1)"/>
<rect x="22.6" y="-30.47" width="1.6" height="30.47" fill="url(#d0)"/>
<rect x="23.6" y="-23.59" width="1.6" height="23.59" fill="url(#d2)"/>
<rect x="24.6" y="-22.95" width="1.6" height="22.95" fill="url(#d1)"/>
<rect x="25.6" y="-20.12" width="1.6" height="20.12" fill="url(#d3)"/>
<rect x="26.6" y="-19.35" width="1.6" height="19.35" fill="url(#d4)"/>
<rect x="27.6" y="-17.66" width="1.6" height="17.66" fill="url(#d1)"/>
<rect x="28.6" y="-15.53" width="1.6" height="15.53" fill="url(#d1)"/>
<rect x="29.6" y="-13" width="1.6" height="13" fill="url(#d4)"/>
<rect x="30.6" y="-14.52" width="1.6" height="14.52" fill="url(#d3)"/>
<rect x="31.6" y="-13.83" width="1.6" height="13.83" fill="url(#d1)"/>
<rect x="32.6" y="-10.98" width="1.6" height="10.98" fill="url(#d1)"/>
<rect x="33.6" y="-9.16" width="1.6" height="9.16" fill="url(#d1)"/>
<rect x="34.6" y="-6.44" width="1.6" height="6.44" fill="url(#d1)"/>
<rect x="35.6" y="-4.99" width="1.6" height="4.99" fill="url(#d1)"/>
<rect x="36.6" y="-3.67" width="1.6" height="3.67" fill="url(#d2)"/>
<rect x="37.6" y="-1.09" width="1.6" height="1.09" fill="url(#d2)"/>
<rect x="38.6" y="-2.16" width="1.6" height="2.16" fill="url(#d0)"/>
<rect x="39.6" y="-2.53" width="1.6" height="2.53" fill="url(#d2)"/>
<rect x="40.6" y="-2.78" width="1.6" height="2.78" fill="url(#d4)"/>
<rect x="41.6" y="-2.58" width="1.6" height="2.58" fill="url(#d3)"/>
<rect x="42.6" y="-2.58" width="1.6" height="2.58" fill="url(#d3)"/>
<rect x="43.6" y="-2.41" width="1.6" height="2.41" fill="url(#d1)"/>
<rect x="44.6" y="-3.16" width="1.6" height="3.16" fill="url(#d0)"/>
<rect x="45.6" y="-3.85" width="1.6" height="3.85" fill="url(#d1)"/>
<rect x="46.6" y="-3.53" width="1.6" height="3.53" fill="url(#d1)"/>
<rect x="47.6" y="-1.66" width="1.6" height="1.66" fill="url(#d2)"/>
<rect x="48.6" y="-1.01" width="1.6" height="1.01" fill="url(#d0)"/>
</g>
<rect transform="matrix(1 -1.27 0 1 474.4 301.5)" x="3.35" y="-38.1" width="1.2" height="24.6" fill="url(#d2)" fill-opacity="0.8"/>
<rect transform="matrix(1 -1.27 0 1 474.4 301.5)" x="18.8" y="-43.67" width="1" height="6.6" fill="url(#d2)" fill-opacity="1"/>
<path d="M482.8 260.5L491.3 249.5" stroke="#0000ff" stroke-width="0.8" stroke-opacity="0.9" fill="none"/>
<path d="M414.4 335.2L422.7 325.1" stroke="#0000ff" stroke-width="1.1" stroke-opacity="0.9" fill="none"/>
<path d="M463.4 283.7L466.8 280" stroke="#0000ff" stroke-width="1.4" stroke-opacity="0.9" fill="none"/>
<path d="M524.8 266.4L528 262.5" stroke="#0000ff" stroke-width="0.9" stroke-opacity="0.4" fill="none"/>
<path d="M528 262.5L534.7 255.1" stroke="#0000ff" stroke-width="1.8" stroke-opacity="0.7" fill="none"/>
<path d="M551 271.7L556 265" stroke="#0000ff" stroke-width="1" stroke-opacity="0.6" fill="none"/>
<polygon points="552,270.4 553.8,266 556,260.5 558.3,255 561.7,252.3 563.5,254.5 566,251.5 568.5,248.8 572.1,245" fill="#0000ff" fill-opacity="0.92" stroke="#0000ff" stroke-opacity="0.28" stroke-width="1.3" stroke-linejoin="round"/>
<path d="M625.4 241.7L628 238.7" stroke="#0000ff" stroke-width="0.9" stroke-opacity="0.3" fill="none"/>
<text x="131.5" y="9.2" font-size="11.55" fill="#0a0a0a" stroke="#0a0a0a" stroke-width="0.22"><tspan>a) CH</tspan><tspan dy="3.3" font-size="7.1">3</tspan><tspan dy="-3.3" font-size="1">&#8203;</tspan><tspan>NH</tspan><tspan dy="3.3" font-size="7.1">2</tspan><tspan dy="-3.3" font-size="1">&#8203;</tspan><tspan>-CO (blank) 10.82 eV</tspan></text>
<text x="524" y="11.2" font-size="11.55" fill="#0a0a0a" stroke="#0a0a0a" stroke-width="0.22"><tspan>b) CH</tspan><tspan dy="3.3" font-size="7.1">3</tspan><tspan dy="-3.3" font-size="1">&#8203;</tspan><tspan>NH</tspan><tspan dy="3.3" font-size="7.1">2</tspan><tspan dy="-3.3" font-size="1">&#8203;</tspan><tspan>-CO 10.82 eV</tspan></text>
<text x="137" y="194.7" font-size="11.55" fill="#0a0a0a" stroke="#0a0a0a" stroke-width="0.22"><tspan>c) CH</tspan><tspan dy="3.3" font-size="7.1">3</tspan><tspan dy="-3.3" font-size="1">&#8203;</tspan><tspan>NH</tspan><tspan dy="3.3" font-size="7.1">2</tspan><tspan dy="-3.3" font-size="1">&#8203;</tspan><tspan>-CO 9.78 eV</tspan></text>
<text x="524" y="196.8" font-size="11.55" fill="#0a0a0a" stroke="#0a0a0a" stroke-width="0.22"><tspan>d) CH</tspan><tspan dy="3.3" font-size="7.1">3</tspan><tspan dy="-3.3" font-size="1">&#8203;</tspan><tspan>NH</tspan><tspan dy="3.3" font-size="7.1">2</tspan><tspan dy="-3.3" font-size="1">&#8203;</tspan><tspan>-C</tspan><tspan dy="-4.6" font-size="7.1">18</tspan><tspan dy="4.6" font-size="1">&#8203;</tspan><tspan>O 10.82 eV</tspan></text>
</svg></body></html>
